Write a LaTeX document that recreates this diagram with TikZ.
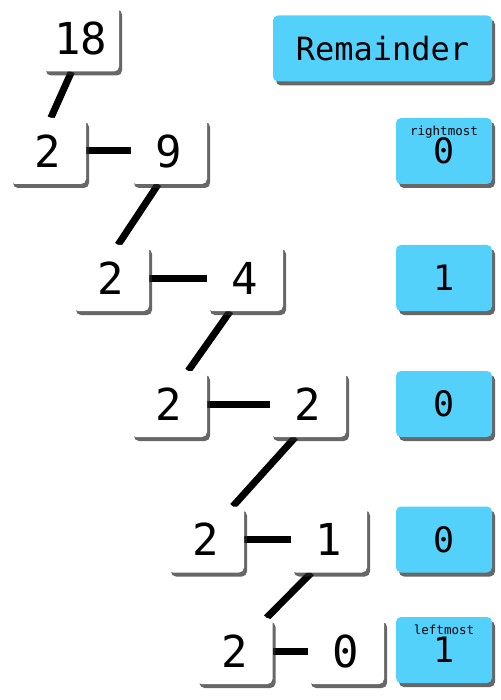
\documentclass[tikz,border=0pt]{standalone}
\usepackage{fontspec}
\setmonofont{DejaVu Sans Mono}
\usetikzlibrary{shadows,backgrounds}
\definecolor{remblue}{RGB}{84,209,251}

\begin{document}
\begin{tikzpicture}[x=1pt,y=-1pt,
    numbox/.style={fill=white, rounded corners=5pt, minimum width=76pt,
        minimum height=66pt, inner sep=0pt,
        font=\ttfamily\fontsize{44}{44}\selectfont,
        drop shadow={shadow xshift=3pt, shadow yshift=-4pt, opacity=0.7,
            fill=black!85}},
    rembox/.style={numbox, fill=remblue, minimum width=96pt,
        font=\ttfamily\fontsize{35}{35}\selectfont},
    tag/.style={font=\ttfamily\fontsize{12.5}{12.5}\selectfont, inner sep=0pt,
        anchor=north, yshift=-8pt},
    link/.style={line width=7pt}]
    \useasboundingbox (0,0) rectangle (500,700);

    % Draw the division steps
    \node[numbox] (d18) at (81,38.5) {18};
    \node[numbox] (two1) at (48,151) {2};
    \node[numbox] (quo9) at (169,151) {9};
    \node[numbox] (two2) at (111,278) {2};
    \node[numbox] (quo4) at (245,278) {4};
    \node[numbox] (two3) at (169,404) {2};
    \node[numbox] (quo2) at (308,404) {2};
    \node[numbox] (two4) at (206,539.5) {2};
    \node[numbox] (quo1) at (329,539.5) {1};
    \node[numbox] (two5) at (234.5,651) {2};
    \node[numbox] (quo0) at (346,651) {0};

    % Draw the remainder column
    \node[rembox, minimum width=219pt, font=\ttfamily\fontsize{32}{32}\selectfont]
        (remhead) at (382.5,48.5) {Remainder};
    \node[rembox, label={[tag]north:rightmost}] (rem1) at (444,151) {0};
    \node[rembox] (rem2) at (444,278) {1};
    \node[rembox] (rem3) at (444,404) {0};
    \node[rembox] (rem4) at (444,539.5) {0};
    \node[rembox, label={[tag]north:leftmost}] (rem5) at (444,650) {1};

    % Connect the steps behind the boxes
    \begin{scope}[on background layer]
        \draw[link] (d18.-106) -- (two1.85);
        \draw[link] (two1.east) -- (quo9.west);
        \draw[link] (quo9.-108) -- (two2.78);
        \draw[link] (two2.east) -- (quo4.west);
        \draw[link] (quo4.-114) -- (two3.60);
        \draw[link] (two3.east) -- (quo2.west);
        \draw[link] (quo2.-111) -- (two4.51);
        \draw[link] (two4.east) -- (quo1.west);
        \draw[link] (quo1.-118) -- (two5.46);
        \draw[link] (two5.east) -- (quo0.west);
    \end{scope}
\end{tikzpicture}
\end{document}
